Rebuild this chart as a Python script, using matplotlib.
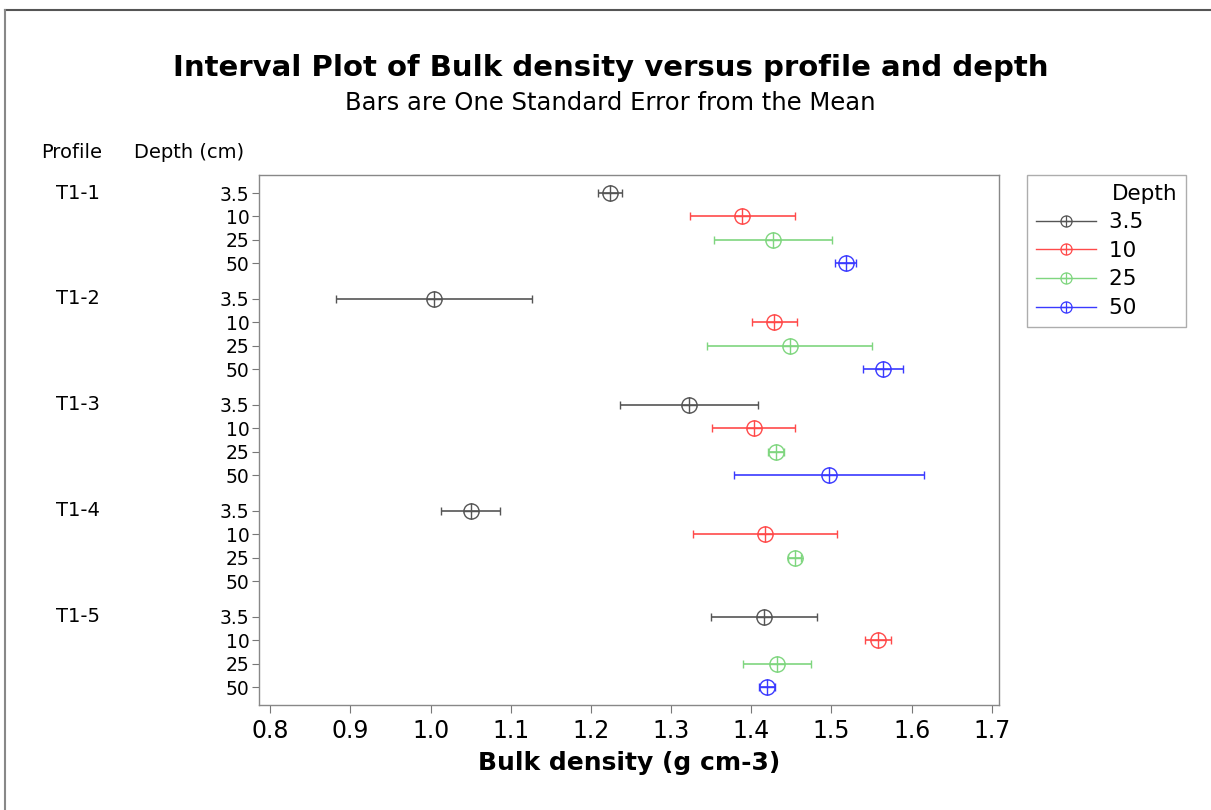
import matplotlib.pyplot as plt
import numpy as np
from matplotlib.path import Path
from matplotlib.lines import Line2D
from matplotlib.transforms import blended_transform_factory

plt.rcParams['font.family'] = ['DejaVu Sans']

profiles = ["T1-1", "T1-2", "T1-3", "T1-4", "T1-5"]
depths = ["3.5", "10", "25", "50"]
colors = ["#555555", "#ff4a4a", "#7fd67f", "#3a3aff"]

# mean bulk density, rows = profile, cols = depth (nan = no data)
means = np.array([
    [1.224, 1.389, 1.427, 1.518],
    [1.004, 1.429, 1.448, 1.564],
    [1.322, 1.403, 1.431, 1.497],
    [1.050, 1.417, 1.454, np.nan],
    [1.416, 1.558, 1.432, 1.420],
])
# one standard error
se = np.array([
    [0.015, 0.066, 0.074, 0.013],
    [0.122, 0.028, 0.103, 0.025],
    [0.086, 0.052, 0.010, 0.118],
    [0.037, 0.090, 0.008, np.nan],
    [0.066, 0.016, 0.042, 0.010],
])

group_step = 4.53

# circle with a cross through it
circ = Path.unit_circle()
cross = Path([(-1, 0), (1, 0), (0, -1), (0, 1)],
             [Path.MOVETO, Path.LINETO, Path.MOVETO, Path.LINETO])
oplus = Path.make_compound_path(circ, cross)

fig = plt.figure(figsize=(12.11, 8.10), dpi=100)
ax = fig.add_axes([0.2139, 0.1296, 0.611, 0.6543])

ypos = []
ylab = []
for i, p in enumerate(profiles):
    for j, d in enumerate(depths):
        y = i * group_step + j
        ypos.append(y)
        ylab.append(d)
        if np.isnan(means[i, j]):
            continue
        ax.errorbar(means[i, j], y, xerr=se[i, j], color=colors[j], lw=1.2,
                    capsize=3, capthick=1.2, marker=oplus, ms=11,
                    mfc='none', mec=colors[j], mew=1.0)

ax.set_xlim(0.786, 1.709)
ax.set_ylim(ypos[-1] + 0.77, ypos[0] - 0.77)
ax.set_xticks(np.arange(0.8, 1.71, 0.1))
ax.set_xticklabels(["%.1f" % v for v in np.arange(0.8, 1.71, 0.1)], fontsize=17)
ax.set_yticks(ypos)
ax.set_yticklabels(ylab, fontsize=13.5)
ax.tick_params(axis='y', length=5, width=0.8, color='#777777', pad=2)
ax.tick_params(axis='x', length=6, width=0.8, color='#777777', pad=4)
for s in ax.spines.values():
    s.set_color('#888888')
    s.set_linewidth(1.0)

ax.set_xlabel("Bulk density (g cm-3)", fontsize=18, fontweight='bold', labelpad=6)

trans = blended_transform_factory(fig.transFigure, ax.transData)
for i, p in enumerate(profiles):
    ax.text(0.0640, i * group_step, p, transform=trans, ha='center', va='center',
            fontsize=14)

fig.text(0.0590, 1 - 152 / 810, "Profile", ha='center', va='center', fontsize=14)
fig.text(0.1565, 1 - 152 / 810, "Depth (cm)", ha='center', va='center', fontsize=14)

fig.text(0.504, 1 - 68 / 810, "Interval Plot of Bulk density versus profile and depth",
         ha='center', va='center', fontsize=21, fontweight='bold')
fig.text(0.504, 1 - 103 / 810, "Bars are One Standard Error from the Mean",
         ha='center', va='center', fontsize=17.5)

handles = [Line2D([], [], color=c, lw=1.0, marker=oplus, ms=8, mfc='none', mec=c,
                  mew=0.9) for c in colors]
# trailing spaces widen the box on the right like the original legend
leg = ax.legend(handles, [d + "     " for d in depths], title="Depth",
                loc='upper left', bbox_to_anchor=(1.0378, 1.0), borderaxespad=0,
                fontsize=15.5, title_fontsize=15.5, frameon=True, fancybox=False,
                edgecolor='#999999', handlelength=2.8, handletextpad=0.6,
                borderpad=0.4, labelspacing=0.4, alignment='right')
leg.get_frame().set_linewidth(1.0)

# frame lines of the original graph window (top and left only)
fig.add_artist(Line2D([5 / 1211, 1], [1 - 10 / 810, 1 - 10 / 810],
                      transform=fig.transFigure, color='#555555', lw=1.5))
fig.add_artist(Line2D([5 / 1211, 5 / 1211], [0, 1 - 10 / 810],
                      transform=fig.transFigure, color='#888888', lw=1.5))

fig.savefig("out.png", dpi=100)
